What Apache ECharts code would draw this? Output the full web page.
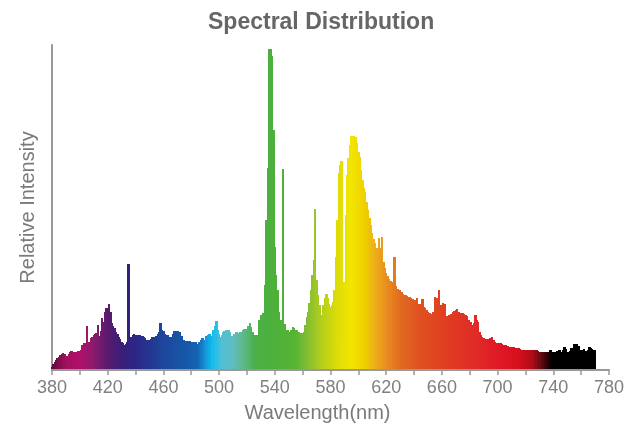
<!DOCTYPE html>
<html>
<head>
<meta charset="utf-8">
<script src="https://cdn.jsdelivr.net/npm/echarts@6/dist/echarts.min.js"></script>
<style>
html,body{margin:0;padding:0;background:#fff;}
#chart{width:627px;height:430px;}
</style>
</head>
<body>
<div id="chart"></div>
<script>
// Wavelength start (nm) and step of the sampled spectrum
const startNm = 380;
const stepNm = 1;
// Relative intensity, one value per nm from 380 to 770
const intensity = [
  3, 6, 8, 10, 12, 13, 15, 16, 17, 16,
  13, 14, 16, 18, 19, 18, 17, 18, 18, 19,
  18, 20, 25, 27, 27, 44, 26, 28, 32, 33,
  35, 36, 37, 45, 34, 39, 52, 48, 58, 62,
  55, 66, 58, 47, 44, 42, 38, 36, 33, 31,
  28, 27, 25, 26, 28, 106, 30, 33, 35, 36,
  35, 35, 35, 35, 34, 34, 33, 32, 30, 30,
  30, 31, 33, 33, 33, 34, 36, 38, 47, 40,
  39, 36, 35, 35, 33, 33, 33, 36, 39, 39,
  39, 36, 38, 34, 30, 30, 29, 29, 29, 29,
  28, 28, 28, 28, 26, 25, 28, 30, 32, 28,
  30, 34, 35, 36, 34, 32, 40, 44, 49, 40,
  36, 33, 35, 38, 39, 40, 40, 40, 38, 34,
  33, 36, 38, 38, 37, 38, 38, 40, 41, 41,
  41, 44, 47, 43, 38, 35, 35, 35, 35, 50,
  55, 55, 57, 85, 150, 202, 321, 321, 314, 240,
  123, 95, 80, 58, 50, 47, 201, 46, 40, 40,
  38, 38, 40, 43, 42, 40, 40, 38, 37, 37,
  37, 38, 45, 53, 58, 67, 80, 95, 110, 161,
  90, 75, 65, 52, 55, 65, 72, 76, 72, 66,
  63, 65, 68, 80, 113, 150, 197, 205, 209, 30,
  88, 155, 195, 212, 225, 234, 234, 234, 233, 227,
  218, 213, 200, 190, 182, 178, 168, 160, 152, 145,
  137, 131, 127, 122, 120, 132, 122, 133, 108, 102,
  97, 94, 91, 89, 88, 86, 113, 84, 81, 80,
  80, 78, 76, 75, 75, 74, 73, 73, 72, 71,
  68, 70, 72, 66, 66, 65, 71, 63, 62, 60,
  58, 57, 55, 56, 58, 73, 72, 68, 80, 65,
  65, 67, 66, 53, 54, 55, 53, 56, 58, 59,
  60, 61, 58, 57, 57, 57, 56, 55, 54, 50,
  47, 48, 45, 47, 55, 50, 48, 38, 35, 33,
  32, 31, 31, 31, 31, 32, 33, 30, 28, 27,
  27, 27, 27, 26, 25, 25, 25, 24, 23, 23,
  23, 23, 23, 22, 22, 22, 21, 20, 20, 20,
  20, 20, 20, 20, 20, 20, 20, 20, 20, 19,
  18, 18, 18, 18, 18, 18, 18, 18, 20, 18,
  18, 18, 18, 19, 20, 20, 18, 20, 23, 21,
  18, 18, 19, 22, 21, 26, 26, 26, 24, 20,
  20, 20, 21, 19, 18, 20, 23, 22, 21, 20,
  20
];
const wavelengths = intensity.map((_, i) => startNm + i * stepNm);

// Colour stops of the spectral fill (style)
const stopNm = [380, 390, 400, 410, 420, 430, 440, 450, 460, 475, 485, 490, 495, 502, 510, 518, 526, 540, 555, 565, 575, 585, 595, 605, 612, 620, 630, 645, 665, 685, 700, 715, 725, 732, 738, 740, 780];
const stopColor = ['#5a0a3a', '#a0105e', '#b0106a', '#8c1a6c', '#5a1a6e', '#3a1e78', '#2c2686', '#243590', '#1e469c', '#1656a6', '#1464b2', '#1490d8', '#10bcec', '#50c0d8', '#60bcc0', '#5cb888', '#4cb048', '#4cb03a', '#56b434', '#88c030', '#b8d018', '#dcdc08', '#f2e600', '#f0d000', '#ecb018', '#e89020', '#e26c20', '#e05020', '#e03c20', '#e02a28', '#e01a24', '#d8101c', '#b00c18', '#600810', '#100000', '#000000', '#000000'];

function hexToRgb(h){ return [parseInt(h.slice(1,3),16), parseInt(h.slice(3,5),16), parseInt(h.slice(5,7),16)]; }
function colorAt(nm){
  for (let i = 0; i < stopNm.length - 1; i++) {
    if (nm >= stopNm[i] && nm <= stopNm[i+1]) {
      const t = (nm - stopNm[i]) / (stopNm[i+1] - stopNm[i]);
      const a = hexToRgb(stopColor[i]), b = hexToRgb(stopColor[i+1]);
      const c = a.map((v, k) => Math.round(v + (b[k] - v) * t));
      return 'rgb(' + c.join(',') + ')';
    }
  }
  return stopColor[stopColor.length - 1];
}

const seriesData = wavelengths.map((w, i) => [w, intensity[i]]);

const FONT = 'Liberation Sans, Arial, sans-serif';
const chart = echarts.init(document.getElementById('chart'), null, { renderer: 'canvas' });
chart.setOption({
  animation: false,
  backgroundColor: '#ffffff',
  title: {
    text: 'Spectral Distribution',
    left: 203,
    top: 6,
    textStyle: { fontFamily: FONT, fontSize: 23, fontWeight: 'bold', color: '#666666' }
  },
  grid: { left: 52, right: 15, top: 45, bottom: 60, containLabel: false },
  xAxis: {
    type: 'value',
    min: 380,
    max: 780,
    interval: 20,
    name: 'Wavelength(nm)',
    nameLocation: 'middle',
    nameGap: 33,
    nameTextStyle: { fontFamily: FONT, fontSize: 20, color: '#7a7a7a', padding: [0, 26, 0, 0] },
    axisLine: { show: true, lineStyle: { color: '#999999', width: 2 } },
    axisTick: { show: true, length: 5, lineStyle: { color: '#999999', width: 1.5 } },
    axisLabel: {
      margin: 9,
      fontFamily: FONT,
      fontSize: 18,
      color: '#808080',
      formatter: v => ((v - 380) % 40 === 0 ? String(v) : '')
    },
    splitLine: { show: false }
  },
  yAxis: {
    type: 'value',
    min: 0,
    max: 325,
    name: 'Relative Intensity',
    nameLocation: 'middle',
    nameGap: 14,
    nameTextStyle: { fontFamily: FONT, fontSize: 20, color: '#7a7a7a' },
    axisLine: { show: true, lineStyle: { color: '#999999', width: 2 } },
    axisTick: { show: false },
    axisLabel: { show: false },
    splitLine: { show: false }
  },
  series: [{
    type: 'custom',
    data: seriesData,
    encode: { x: 0, y: 1 },
    renderItem: function (params, api) {
      const w = api.value(0);
      const v = api.value(1);
      const p0 = api.coord([w - stepNm / 2, 0]);
      const p1 = api.coord([w + stepNm / 2, v]);
      const xL = Math.floor(p0[0]);
      const xR = Math.ceil(p1[0]);
      const yT = Math.round(p1[1]);
      const yB = Math.round(p0[1]) - 1;
      return {
        type: 'rect',
        shape: { x: xL, y: yT, width: Math.max(1, xR - xL), height: yB - yT },
        style: { fill: colorAt(w) }
      };
    }
  }]
});
</script>
</body>
</html>
